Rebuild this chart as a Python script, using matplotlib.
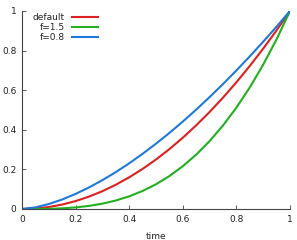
import matplotlib
matplotlib.use("Agg")
import matplotlib.pyplot as plt

time = [0, 0.05, 0.1, 0.15, 0.2, 0.25, 0.3, 0.35, 0.4, 0.45, 0.5,
        0.55, 0.6, 0.65, 0.7, 0.75, 0.8, 0.85, 0.9, 0.95, 1.0]
default = [0, 0.0025, 0.01, 0.0225, 0.04, 0.0625, 0.09, 0.1225, 0.16, 0.2025, 0.25,
           0.3025, 0.36, 0.4225, 0.49, 0.5625, 0.64, 0.7225, 0.81, 0.9025, 1.0]
f15 = [0, 0.0001, 0.001, 0.0034, 0.008, 0.0156, 0.027, 0.0429, 0.064, 0.0911, 0.125,
       0.1664, 0.216, 0.2746, 0.343, 0.4219, 0.512, 0.6141, 0.729, 0.8574, 1.0]
f08 = [0, 0.0083, 0.0251, 0.0481, 0.0762, 0.1088, 0.1457, 0.1864, 0.2308, 0.2787, 0.3299,
       0.3842, 0.4416, 0.5019, 0.5651, 0.6311, 0.6998, 0.7711, 0.8449, 0.9212, 1.0]
labels = ["default", "f=1.5", "f=0.8"]
xticks = [0, 0.2, 0.4, 0.6, 0.8, 1]
yticks = [0, 0.2, 0.4, 0.6, 0.8, 1]
tick_labels = ["0", "0.2", "0.4", "0.6", "0.8", "1"]

fig = plt.figure(figsize=(2.97, 2.40), dpi=100)
ax = fig.add_axes([22/297, 1-209/240, 268/297, 198/240])
ax.plot(time, default, color="#dd2020", lw=1.5, label=labels[0])
ax.plot(time, f15, color="#20b020", lw=1.5, label=labels[1])
ax.plot(time, f08, color="#2078dc", lw=1.5, label=labels[2])
ax.set_xlim(0, 1)
ax.set_ylim(0, 1)
ax.set_xticks(xticks)
ax.set_xticklabels(tick_labels)
ax.set_yticks(yticks)
ax.set_yticklabels(tick_labels)
for s in ["top", "right"]:
    ax.spines[s].set_visible(False)
for s in ["left", "bottom"]:
    ax.spines[s].set_color("#444444")
    ax.spines[s].set_linewidth(0.8)
ax.tick_params(direction="in", length=3, width=0.6, colors="#444444",
               labelsize=6.5, labelcolor="#222222", pad=4)
ax.set_xlabel("time", fontsize=6.5, color="#222222", labelpad=6)
leg = ax.legend(loc="upper left", bbox_to_anchor=(0.01, 1.03), frameon=False,
                markerfirst=False, fontsize=6.5, handlelength=2.9,
                handletextpad=0.8, labelspacing=0.12)
for t in leg.get_texts():
    t.set_ha("right")
    t.set_color("#222222")
fig.savefig("out.png", dpi=100)
